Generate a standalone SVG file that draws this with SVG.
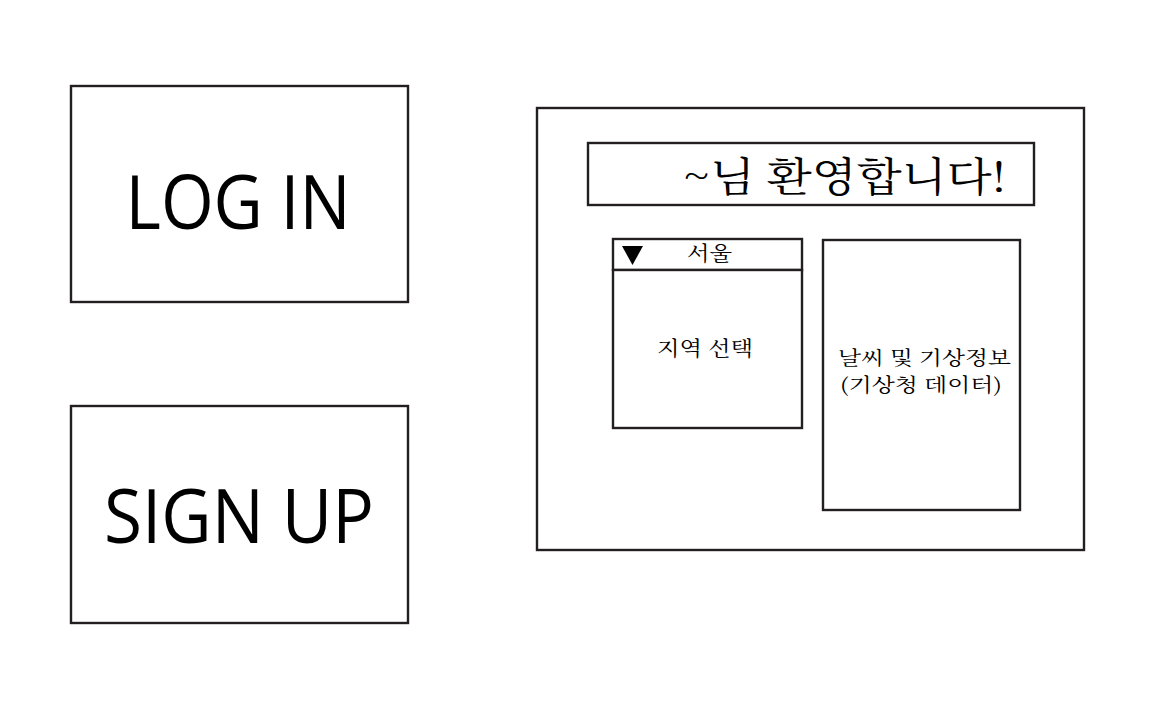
<svg xmlns="http://www.w3.org/2000/svg" width="1175" height="722" viewBox="0 0 1175 722">
<style>
.box{fill:#fff;stroke:#231f20;stroke-width:2.4}
.en{font-family:"Open Sans","Liberation Sans",sans-serif;fill:#000}
.ko{font-family:"Noto Serif CJK KR","Noto Sans CJK KR",serif;fill:#000}
</style>
<rect width="1175" height="722" fill="#fff"/>
<g id="login">
<rect class="box" x="71" y="86" width="337" height="216"/>
<text class="en" x="238" y="229" font-size="75" text-anchor="middle" textLength="225" lengthAdjust="spacingAndGlyphs">LOG IN</text>
</g>
<g id="signup">
<rect class="box" x="71" y="406" width="337" height="217"/>
<text class="en" x="239" y="543" font-size="75" text-anchor="middle" textLength="270" lengthAdjust="spacingAndGlyphs">SIGN UP</text>
</g>
<g id="main">
<rect class="box" x="537" y="108" width="547" height="442"/>
</g>
<g id="welcome">
<rect class="box" x="588" y="143" width="446" height="62"/>
<text class="ko" x="683" y="191" font-size="40" textLength="323" lengthAdjust="spacingAndGlyphs">~님 환영합니다!</text>
</g>
<g id="region">
<rect class="box" x="613" y="239" width="189" height="31"/>
<polygon points="622,246 643,246 632.5,265" fill="#000"/>
<text class="ko" x="687" y="261" font-size="20" textLength="45" lengthAdjust="spacingAndGlyphs">서울</text>
<rect class="box" x="613" y="270" width="189" height="158"/>
<text class="ko" x="657" y="356" font-size="20" textLength="96" lengthAdjust="spacingAndGlyphs">지역 선택</text>
</g>
<g id="weather">
<rect class="box" x="823" y="240" width="197" height="270"/>
<text class="ko" x="838" y="365" font-size="19" textLength="173" lengthAdjust="spacingAndGlyphs">날씨 및 기상정보</text>
<text class="ko" x="840" y="392" font-size="19" textLength="162" lengthAdjust="spacingAndGlyphs">(기상청 데이터)</text>
</g>
<g id="connectors"></g>
</svg>
